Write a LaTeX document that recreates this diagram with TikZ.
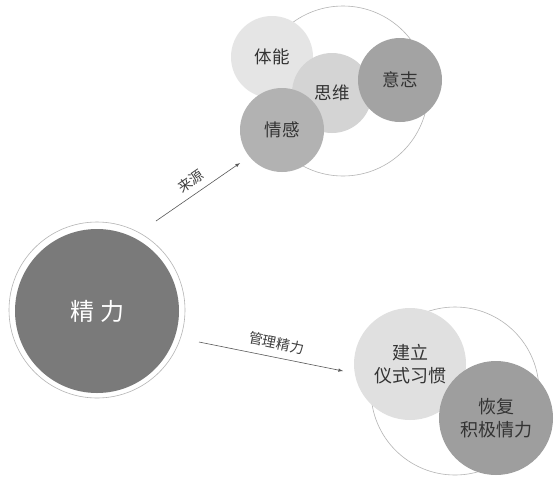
\documentclass[tikz,border=0pt]{standalone}
\usepackage{fontspec}
\newfontfamily\cjk{Noto Sans CJK SC}
\usetikzlibrary{arrows}
\definecolor{ringgray}{HTML}{B4B4B4}
\definecolor{darkfill}{HTML}{7A7A7A}
\tikzset{
  ball/.style={circle,inner sep=0pt,font=\cjk\fontsize{17.5}{21}\selectfont,text=black!80,align=center},
  ring/.style={circle,draw=ringgray,line width=0.6pt,inner sep=0pt},
  flow/.style={-latex,color=black!65,line width=0.6pt},
  flowlabel/.style={font=\cjk\fontsize{14}{16}\selectfont,text=black!75}
}
\begin{document}
\begin{tikzpicture}[x=1pt,y=-1pt]
  \useasboundingbox (0,0) rectangle (560,483);
  \fill[white] (0,0) rectangle (560,483);

  % source
  \node[ring,minimum size=176pt] (jingliring) at (97,310) {};
  \node[ball,fill=darkfill,minimum size=164pt,text=white,font=\cjk\fontsize{24}{28}\selectfont] (jingli) at (97,311) {精\hspace{6pt}力};

  % upper cluster
  \node[ring,minimum size=170pt] (topring) at (343,91) {};
  \node[ball,fill=black!10,minimum size=82pt] (tineng) at (272,57) {体能};
  \node[ball,fill=black!17,minimum size=80pt] (siwei) at (332,93) {思维};
  \node[ball,fill=black!36,minimum size=84pt] (yizhi) at (400,80) {意志};
  \node[ball,fill=black!30,minimum size=84pt] (qinggan) at (282,130) {情感};

  % lower cluster
  \node[ring,minimum size=168pt] (lowring) at (455,391) {};
  \node[ball,fill=black!12,minimum size=112pt,font=\cjk\fontsize{18}{23}\selectfont] (yishi) at (410,364) {建立\\仪式习惯};
  \node[ball,fill=black!38,minimum size=114pt,font=\cjk\fontsize{18}{23}\selectfont] (huifu) at (496,418) {恢复\\积极情力};

  % arrows
  \coordinate (a1) at (156,221);
  \coordinate (b1) at (240,163);
  \coordinate (a2) at (199,342);
  \coordinate (b2) at (343,371);
  \draw[flow] (a1) -- (b1) node[midway,above=3pt,sloped,flowlabel] {来源};
  \draw[flow] (a2) -- (b2) node[pos=0.52,above=4pt,sloped,flowlabel] {管理精力};
\end{tikzpicture}
\end{document}
